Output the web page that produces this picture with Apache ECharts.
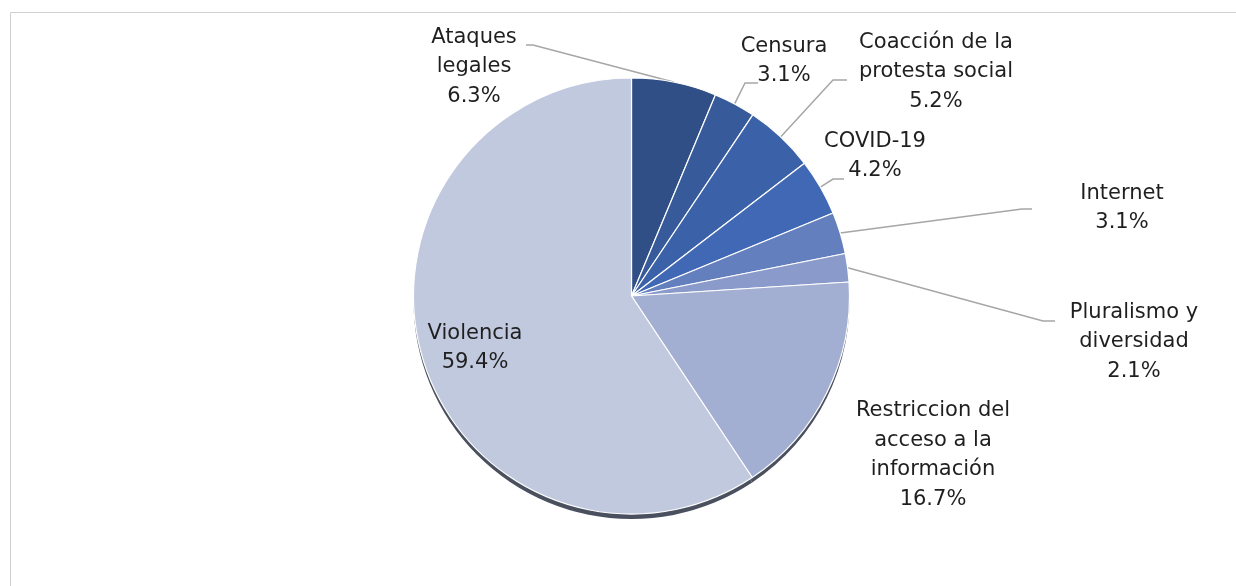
<!DOCTYPE html>
<html>
<head>
<meta charset="utf-8">
<script src="https://cdn.jsdelivr.net/npm/echarts@6/dist/echarts.min.js"></script>
<style>
html,body{margin:0;padding:0;background:#fff;}
#chart{width:1236px;height:586px;}
</style>
</head>
<body>
<div id="chart"></div>
<script>
// Data
const categories = [
  "Ataques\nlegales",
  "Censura",
  "Coacción de la\nprotesta social",
  "COVID-19",
  "Internet",
  "Pluralismo y\ndiversidad",
  "Restriccion del\nacceso a la\ninformación",
  "Violencia"
];
const percents = [6.3, 3.1, 5.2, 4.2, 3.1, 2.1, 16.7, 59.4];

// Styling / layout (kept separate from data)
const colors = ["#304F86", "#375B9A", "#3B62A8", "#4068B5", "#647FBE", "#8A9ACA", "#A3AFD2", "#C1C9DF"];
const labelPos = [[474, 67], [784, 61], [936, 72], [875, 156], [1122, 208], [1134, 342], [933, 455], [475, 348]];
// elbow/end points of the leader lines (label side); null = no leader line
const leaderEnds = [
  [[533, 45], [526, 45]],
  [[745, 83], [758, 83]],
  [[833, 80], [847, 80]],
  [[833, 179], [844, 179]],
  [[1022, 209], [1032, 209]],
  [[1043, 321], [1055, 321]],
  null,
  null
];
const pieCenter = [631.5, 296];
const pieRadius = 218;

const total = percents.reduce((a, b) => a + b, 0);
const cumStart = [];
percents.reduce((acc, v, i) => { cumStart[i] = acc; return acc + v; }, 0);
function edgePoint(i) {
  const f = (cumStart[i] + percents[i] / 2) / total;
  const a = f * Math.PI * 2;
  return [pieCenter[0] + pieRadius * Math.sin(a), pieCenter[1] - pieRadius * Math.cos(a)];
}

const chart = echarts.init(document.getElementById('chart'), null, {renderer: 'canvas'});

const mainData = categories.map((c, i) => ({
  name: c,
  value: percents[i],
  itemStyle: {color: colors[i]},
  labelLine: {show: leaderEnds[i] !== null}
}));
const shadowData = categories.map((c, i) => ({name: c, value: percents[i]}));

const option = {
  animation: false,
  graphic: [{
    type: 'rect',
    shape: {x: 10.5, y: 12.5, width: 1400, height: 800},
    style: {fill: 'none', stroke: '#d0d0d0', lineWidth: 1},
    silent: true,
    z: -10
  }],
  series: [
    {
      type: 'pie',
      silent: true,
      center: [pieCenter[0], pieCenter[1] + 5],
      radius: pieRadius,
      startAngle: 90,
      data: shadowData,
      itemStyle: {color: '#4b505f', borderWidth: 0},
      label: {show: false},
      labelLine: {show: false},
      z: 1
    },
    {
      type: 'pie',
      center: pieCenter,
      radius: pieRadius,
      startAngle: 90,
      clockwise: true,
      data: mainData,
      itemStyle: {borderColor: '#ffffff', borderWidth: 1.2},
      label: {
        show: true,
        position: 'outside',
        formatter: p => p.name + '\n' + p.value.toFixed(1) + '%',
        fontFamily: 'DejaVu Sans',
        fontSize: 21,
        lineHeight: 29.5,
        color: '#1f1f1f',
        align: 'center'
      },
      labelLine: {
        show: true,
        length: 10,
        length2: 12,
        smooth: false,
        lineStyle: {color: '#a6a6a6', width: 1.5}
      },
      labelLayout: function (p) {
        const i = p.dataIndex;
        const pos = labelPos[i];
        const res = {x: pos[0], y: pos[1], align: 'center', verticalAlign: 'middle'};
        if (leaderEnds[i]) {
          res.labelLinePoints = [edgePoint(i)].concat(leaderEnds[i]);
        }
        return res;
      },
      z: 2
    }
  ]
};
chart.setOption(option);
</script>
</body>
</html>
